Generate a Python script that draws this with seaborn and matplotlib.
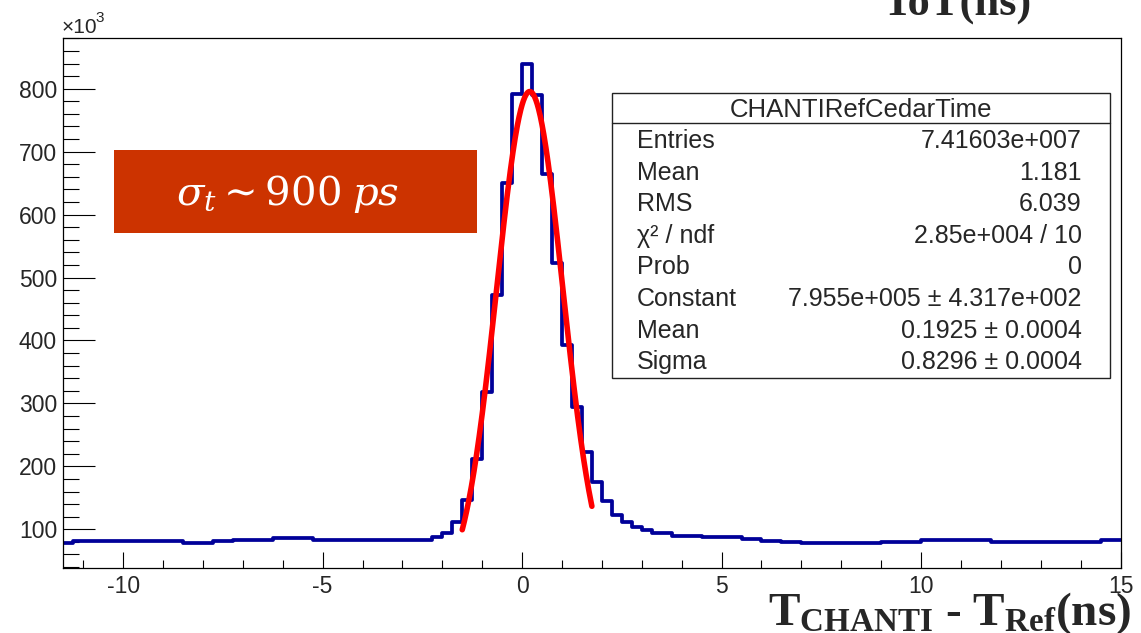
import numpy as np
import pandas as pd
import matplotlib
matplotlib.use("Agg")
import matplotlib.pyplot as plt
import seaborn as sns
from matplotlib.patches import Rectangle
from matplotlib.lines import Line2D
from matplotlib.ticker import MultipleLocator

# ---- data: T_CHANTI - T_Ref distribution, 0.25 ns bins, counts in units of 10^3 ----
bin_width = 0.25
x_low, x_high = -11.5, 15.0
counts = [
    77.5, 81.5, 81.5, 81.5, 81.5, 81.5, 81.5, 81.5, 81.5, 81.5, 81.5, 81.5,   # -11.5 .. -8.5
    79.0, 79.0, 79.0, 81.5, 81.5,                                             # -8.5 .. -7.25
    83.0, 83.0, 83.0, 83.0, 85.5, 85.5, 85.5, 85.5,                           # -7.25 .. -5.25
    83.0, 83.0, 83.0, 83.0, 83.0, 83.0, 83.0, 83.0, 83.0, 83.0, 83.0, 83.0,   # -5.25 .. -2.25
    87.3, 94.6, 111.0, 146.5, 211.7, 318.6, 472.0, 649.7, 791.6,              # -2.25 .. 0
    839.2, 790.0, 664.5, 522.6, 392.8, 294.8, 223.3, 175.6, 144.9,            # 0 .. 2.25
    122.7, 112.0, 103.2, 98.9, 94.6, 94.6, 89.8, 89.8, 89.8,                  # 2.25 .. 4.5
    87.3, 87.3, 87.3, 87.3, 84.1, 84.1, 81.5, 81.5, 80.0, 80.0,               # 4.5 .. 7.0
    77.5, 77.5, 77.5, 77.5, 77.5, 77.5, 77.5, 77.5, 80.0, 80.0, 80.0, 80.0,   # 7.0 .. 10.0
    82.5, 82.5, 82.5, 82.5, 82.5, 82.5, 82.5,                                 # 10.0 .. 11.75
    80.0, 80.0, 80.0, 80.0, 80.0, 80.0, 80.0, 80.0, 80.0, 80.0, 80.0,         # 11.75 .. 14.5
    82.5, 82.5,                                                               # 14.5 .. 15.0
]

# Gaussian fit result (Constant in units of 10^3)
fit_const = 795.5
fit_mean = 0.1925
fit_sigma = 0.8296
fit_range = (-1.5, 1.75)

stats_title = "CHANTIRefCedarTime"
stats_labels = ["Entries", "Mean", "RMS", "\u03c7\u00b2 / ndf", "Prob",
                "Constant", "Mean", "Sigma"]
stats_values = ["7.41603e+007", "1.181", "6.039", "2.85e+004 / 10", "0",
                "7.955e+005 \u00b1 4.317e+002", "0.1925 \u00b1 0.0004",
                "0.8296 \u00b1 0.0004"]

x_major, x_minor = 5, 1
y_major, y_minor = 100, 20
y_limits = (38.5, 881)

# ---- style ----
sns.set_theme(style="white")
plt.rcParams["font.family"] = ["Liberation Sans", "DejaVu Sans"]
plt.rcParams["axes.unicode_minus"] = False
plt.rcParams["mathtext.fontset"] = "custom"
plt.rcParams["mathtext.rm"] = "Liberation Serif:bold"
plt.rcParams["mathtext.bf"] = "Liberation Serif:bold"
plt.rcParams["mathtext.it"] = "Liberation Serif:bold:italic"

W, H = 1141, 633
fig = plt.figure(figsize=(W / 100, H / 100), dpi=100)
fig.patch.set_facecolor("white")


def fx(px):
    return px / W


def fy(py):
    return 1 - py / H


ax = fig.add_axes([fx(63.3), fy(568), fx(1120.5) - fx(63.3), fy(37.7) - fy(568)])

edges = x_low + bin_width * np.arange(len(counts) + 1)
centers = edges[:-1] + bin_width / 2
df = pd.DataFrame({"t": centers, "n": counts})
sns.histplot(data=df, x="t", weights="n", bins=list(edges), element="step",
             fill=False, color="#000099", linewidth=2.7, ax=ax)

xs = np.linspace(fit_range[0], fit_range[1], 300)
ys = fit_const * np.exp(-0.5 * ((xs - fit_mean) / fit_sigma) ** 2)
sns.lineplot(x=xs, y=ys, color="#ff0000", linewidth=4.0, ax=ax, zorder=5)

ax.set_xlim(x_low, x_high)
ax.set_ylim(*y_limits)
ax.set_xlabel("")
ax.set_ylabel("")
ax.xaxis.set_major_locator(MultipleLocator(x_major))
ax.xaxis.set_minor_locator(MultipleLocator(x_minor))
ax.yaxis.set_major_locator(MultipleLocator(y_major))
ax.yaxis.set_minor_locator(MultipleLocator(y_minor))
ax.tick_params(axis="both", which="both", direction="in", top=False, right=False,
               bottom=True, left=True, color="black", width=0.8)
ax.tick_params(axis="y", which="major", length=23, pad=4.5, labelsize=16.5)
ax.tick_params(axis="y", which="minor", length=11.5)
ax.tick_params(axis="x", which="major", length=11.5, pad=5, labelsize=16.5)
ax.tick_params(axis="x", which="minor", length=5.8)
for sp in ax.spines.values():
    sp.set_color("black")
    sp.set_linewidth(0.9)
ax.grid(False)

# exponent marker of the y axis
fig.text(fx(62), fy(33.3), "\u00d710", fontsize=15, ha="left", va="baseline")
fig.text(fx(95.5), fy(22.5), "3", fontsize=11, ha="left", va="baseline")

# statistics box
fig.add_artist(Rectangle((fx(612), fy(378)), fx(1110) - fx(612), fy(93) - fy(378),
                         transform=fig.transFigure, facecolor="white",
                         edgecolor="#222222", linewidth=1.0, zorder=6))
fig.add_artist(Line2D([fx(612), fx(1110)], [fy(123.3), fy(123.3)],
                      transform=fig.transFigure, color="#222222", linewidth=1.0, zorder=7))
fig.text(fx(861), fy(117.3), stats_title, fontsize=18.5, ha="center", va="baseline", zorder=8)
row_baselines = [148.3, 179.8, 211.3, 242.8, 274.5, 306.0, 337.6, 369.2]
for lab, val, yb in zip(stats_labels, stats_values, row_baselines):
    fig.text(fx(636.7), fy(yb), lab, fontsize=18, ha="left", va="baseline", zorder=8)
    fig.text(fx(1081.7), fy(yb), val, fontsize=18, ha="right", va="baseline", zorder=8)

# resolution annotation
fig.add_artist(Rectangle((fx(114), fy(233.3)), fx(477) - fx(114), fy(150) - fy(233.3),
                         transform=fig.transFigure, facecolor="#cc3300",
                         edgecolor="none", zorder=6))
fig.text(fx(288), fy(205), r"$\sigma_t{\sim}900\;ps$", fontsize=29, color="white",
         ha="center", va="baseline", math_fontfamily="dejavuserif", zorder=8)

# axis titles
fig.text(fx(1131), fy(625), r"$\mathbf{T_{CHANTI}}$ - $\mathbf{T_{Ref}}$(ns)",
         fontsize=34, fontfamily="Liberation Serif", fontweight="bold",
         ha="right", va="baseline", zorder=8)
fig.text(fx(882), fy(16), "ToT(ns)", fontsize=32, fontfamily="Liberation Serif",
         fontweight="bold", ha="left", va="baseline", zorder=8)

fig.savefig("out.png", dpi=100, facecolor="white")
